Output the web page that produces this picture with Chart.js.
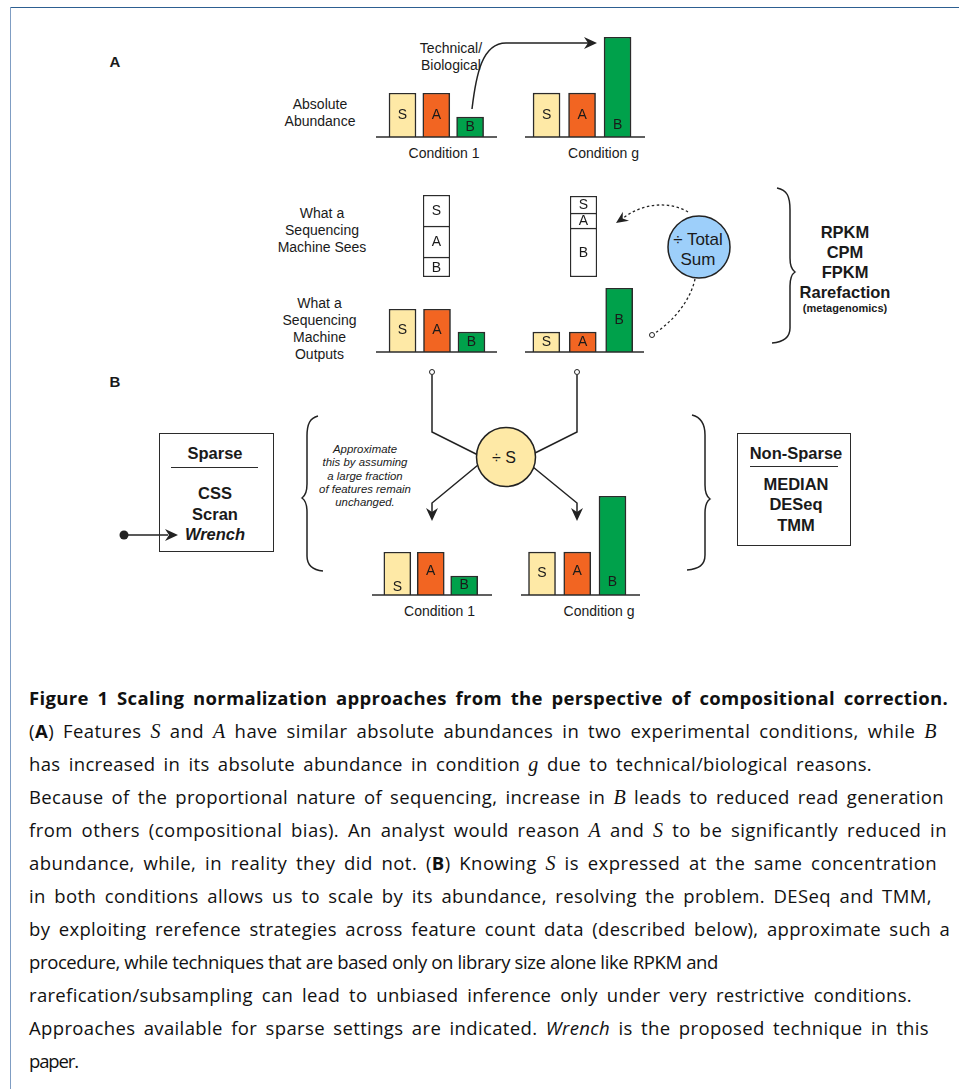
<!DOCTYPE html>
<html>
<head>
<meta charset="utf-8">
<script src="https://cdn.jsdelivr.net/npm/chart.js@4.4.1/dist/chart.umd.min.js"></script>
<style>
body { margin: 0; background: #fff; font-family: "Liberation Sans", Arial, sans-serif; color: #1a1a1a; }
#fig { position: relative; width: 959px; height: 1089px; overflow: hidden; }
.frameTop { position: absolute; left: 10px; top: 7px; width: 949px; border-top: 1.5px solid #2d5f91; }
.frameLeft { position: absolute; left: 10px; top: 7px; height: 1082px; border-left: 1.5px solid #7f9dc3; }
canvas { position: absolute; }
svg { position: absolute; left: 0; top: 0; }
.t { position: absolute; transform: translate(-50%, -50%); white-space: nowrap; text-align: center; font-size: 14px; line-height: 17px; }
.bold { font-weight: bold; }
.box { position: absolute; border: 1.5px solid #2b2b2b; box-sizing: border-box; }
.rule { position: absolute; border-top: 1.5px solid #2b2b2b; }
#caption { position: absolute; left: 29px; top: 681px; font-family: "Open Sans", Lato, sans-serif; font-size: 18.5px; line-height: 33px; color: #111; }
#caption .ln { white-space: nowrap; height: 33px; overflow: visible; }
#caption .ln span.w { display: inline-block; line-height: 33px; vertical-align: top; }
#caption .m { font-family: "Liberation Serif", serif; font-style: italic; font-size: 20px; line-height: 1; }
</style>
</head>
<body>
<div id="fig">
  <div class="frameTop"></div>
  <div class="frameLeft"></div>

  <svg width="959" height="1089">
    <g fill="none" stroke="#222" stroke-width="1.5">
      <path d="M472,109 C476,75 482,43 506,43 L588,43"/>
      <path d="M777,188 C787,190 790,196 790,210 L790,258 C790,266 792,270 795,272 C792,274 790,278 790,286 L790,328 C790,337 784,342 772,343"/>
      <path d="M318,416 C310,418 307,424 307,436 L307,484 C307,492 305,496 302,498 C305,500 307,504 307,512 L307,556 C307,566 313,570 323,571"/>
      <path d="M692,415 C700,417 705,423 705,435 L705,485 C705,493 707,497 710,499 C707,501 705,505 705,513 L705,555 C705,565 699,569 687,570"/>
      <path d="M432,375 L432,432 L478,455"/>
      <path d="M478,465 L432,503 L432,512"/>
      <path d="M577,375 L577,432 L535,453"/>
      <path d="M533,467 L577,503 L577,512"/>
      <line x1="124" y1="535" x2="168" y2="535"/>
    </g>
    <g fill="none" stroke="#222" stroke-width="1.3" stroke-dasharray="2.5,2.5">
      <path d="M688,212 C668,200 640,204 622,219"/>
      <path d="M695,279 C690,302 672,322 655,333"/>
    </g>
    <circle cx="699" cy="247" r="31" fill="#9dcffa" stroke="#222" stroke-width="1.5"/>
    <circle cx="506" cy="457" r="29.5" fill="#fee9a6" stroke="#222" stroke-width="1.5"/>
    <g fill="#222">
      <path transform="translate(597,43)" d="M0,0 L-13,-6 L-9,0 L-13,6 Z"/>
      <path transform="translate(616,223) rotate(146)" d="M0,0 L-12,-5.5 L-8,0 L-12,5.5 Z"/>
      <path transform="translate(432,521) rotate(90)" d="M0,0 L-13,-6 L-9,0 L-13,6 Z"/>
      <path transform="translate(577,521) rotate(90)" d="M0,0 L-13,-6 L-9,0 L-13,6 Z"/>
      <path transform="translate(178,535)" d="M0,0 L-13,-6 L-9,0 L-13,6 Z"/>
      <circle cx="124" cy="535" r="4.5"/>
    </g>
    <g fill="#fff" stroke="#222" stroke-width="1">
      <circle cx="652" cy="335" r="2.5"/>
      <circle cx="432" cy="372" r="2.5"/>
      <circle cx="577" cy="372" r="2.5"/>
    </g>
  </svg>

  <canvas id="absC1"></canvas>
  <canvas id="absCg"></canvas>
  <canvas id="seeC1"></canvas>
  <canvas id="seeCg"></canvas>
  <canvas id="outC1"></canvas>
  <canvas id="outCg"></canvas>
  <canvas id="scaleC1"></canvas>
  <canvas id="scaleCg"></canvas>

  <div class="t bold" style="left:115px;top:61px;font-size:15px;">A</div>
  <div class="t" style="left:451px;top:56.5px;">Technical/<br>Biological</div>
  <div class="t" style="left:320px;top:112.5px;">Absolute<br>Abundance</div>
  <div class="t" style="left:444px;top:153px;">Condition 1</div>
  <div class="t" style="left:603.5px;top:153px;">Condition g</div>
  <div class="t" style="left:322px;top:230px;">What a<br>Sequencing<br>Machine Sees</div>
  <div class="t" style="left:319.5px;top:328.5px;">What a<br>Sequencing<br>Machine<br>Outputs</div>
  <div class="t" style="left:698px;top:250px;font-size:17px;line-height:20px;">÷ Total<br>Sum</div>
  <div class="t bold" style="left:845px;top:262px;font-size:16.5px;line-height:20px;">RPKM<br>CPM<br>FPKM<br>Rarefaction</div>
  <div class="t bold" style="left:845px;top:308px;font-size:11px;">(metagenomics)</div>

  <div class="t bold" style="left:115px;top:381px;font-size:15px;">B</div>
  <div class="box" style="left:159px;top:433px;width:115px;height:119px;"></div>
  <div class="t bold" style="left:215px;top:453px;font-size:16.5px;">Sparse</div>
  <div class="rule" style="left:171px;top:467px;width:87px;"></div>
  <div class="t bold" style="left:215px;top:514px;font-size:16.5px;line-height:20.5px;">CSS<br>Scran<br><i>Wrench</i></div>
  <div class="t" style="left:365px;top:476px;font-size:11.4px;line-height:13.3px;font-style:italic;">Approximate<br>this by assuming<br>a large fraction<br>of features remain<br>unchanged.</div>
  <div class="t" style="left:504px;top:457px;font-size:16px;">÷ S</div>
  <div class="t" style="left:439.5px;top:611px;">Condition 1</div>
  <div class="t" style="left:599px;top:611px;">Condition g</div>
  <div class="box" style="left:737px;top:433px;width:114px;height:113px;"></div>
  <div class="t bold" style="left:796px;top:453px;font-size:16.5px;">Non-Sparse</div>
  <div class="rule" style="left:750px;top:466px;width:88px;"></div>
  <div class="t bold" style="left:796px;top:504.5px;font-size:16.5px;line-height:20.5px;">MEDIAN<br>DESeq<br>TMM</div>

  <div id="caption">
    <div class="ln" data-end="948"><span class="w"><b>Figure 1 Scaling normalization approaches from the perspective of compositional correction.</b></span></div>
    <div class="ln" data-end="937"><span class="w">(<b>A</b>) Features <span class="m">S</span> and <span class="m">A</span> have similar absolute abundances in two experimental conditions, while <span class="m">B</span></span></div>
    <div class="ln" data-end="872"><span class="w">has increased in its absolute abundance in condition <span class="m">g</span> due to technical/biological reasons.</span></div>
    <div class="ln" data-end="944"><span class="w">Because of the proportional nature of sequencing, increase in <span class="m">B</span> leads to reduced read generation</span></div>
    <div class="ln" data-end="947"><span class="w">from others (compositional bias). An analyst would reason <span class="m">A</span> and <span class="m">S</span> to be significantly reduced in</span></div>
    <div class="ln" data-end="937"><span class="w">abundance, while, in reality they did not. (<b>B</b>) Knowing <span class="m">S</span> is expressed at the same concentration</span></div>
    <div class="ln" data-end="932"><span class="w">in both conditions allows us to scale by its abundance, resolving the problem. DESeq and TMM,</span></div>
    <div class="ln" data-end="950"><span class="w">by exploiting rerefence strategies across feature count data (described below), approximate such a</span></div>
    <div class="ln" data-end="718"><span class="w">procedure, while techniques that are based only on library size alone like RPKM and</span></div>
    <div class="ln" data-end="912"><span class="w">rarefication/subsampling can lead to unbiased inference only under very restrictive conditions.</span></div>
    <div class="ln" data-end="929"><span class="w">Approaches available for sparse settings are indicated. <i>Wrench</i> is the proposed technique in this</span></div>
    <div class="ln" data-end="78"><span class="w">paper.</span></div>
  </div>
</div>

<script>
// features and their colours
const features = ['S', 'A', 'B'];
const featureColors = ['#fee9a6', '#f26522', '#00a14b'];

// absolute abundance (arbitrary units)
const absCond1 = [44, 44, 20];
const absCondG = [44, 44, 100];

// what the sequencer sees: share of one read column, S / A / B
const seenCond1 = [31, 31, 20];
const seenCondG = [17, 15, 49];

// what the sequencer outputs
const outCond1 = [43, 43, 20];
const outCondG = [20, 20, 64];

// after scaling by S
const scaledCond1 = [43, 43, 19];
const scaledCondG = [43, 43, 99];

Chart.defaults.font.family = '"Liberation Sans", Arial, sans-serif';

function noFrills() {
  return { legend: { display: false }, tooltip: { enabled: false } };
}

// one group of three bars on a baseline
function barGroup(id, values, g, labelAt) {
  const c = document.getElementById(id);
  const top = Math.max(...values);
  c.width = g.w + g.extL + g.extR + 4;
  c.height = top + 8;
  c.style.left = (g.x - g.extL - 2) + 'px';
  c.style.top = (g.base - top - 4) + 'px';

  const decor = {
    id: 'decor',
    afterDatasetsDraw(chart) {
      const ctx = chart.ctx;
      const area = chart.chartArea;
      const y0 = chart.scales.y.getPixelForValue(0);
      ctx.save();
      ctx.strokeStyle = '#2b2b2b';
      ctx.lineWidth = 1.5;
      ctx.beginPath();
      ctx.moveTo(area.left - g.extL, y0);
      ctx.lineTo(area.right + g.extR, y0);
      ctx.stroke();
      ctx.fillStyle = '#1a1a1a';
      ctx.font = '14px "Liberation Sans", Arial, sans-serif';
      ctx.textAlign = 'center';
      ctx.textBaseline = 'middle';
      chart.getDatasetMeta(0).data.forEach((bar, i) => {
        const y = labelAt[i] == null ? (bar.y + bar.base) / 2 : bar.base - labelAt[i];
        ctx.fillText(features[i], bar.x, y);
      });
      ctx.restore();
    }
  };

  new Chart(c, {
    type: 'bar',
    data: {
      labels: features,
      datasets: [{
        data: values,
        backgroundColor: featureColors,
        borderColor: '#2b2b2b',
        borderWidth: 1.5,
        barThickness: 27
      }]
    },
    options: {
      responsive: false,
      animation: false,
      events: [],
      layout: { padding: { left: g.extL + 2, right: g.extR + 2, top: 4, bottom: 4 } },
      plugins: noFrills(),
      scales: {
        x: { display: false },
        y: { display: false, min: 0, max: top }
      }
    },
    plugins: [decor]
  });
}

// one stacked read column (S on top, B at the bottom)
function readColumn(id, seen, x, bottom) {
  const c = document.getElementById(id);
  const total = seen.reduce((a, b) => a + b, 0);
  c.width = 27 + 4;
  c.height = total + 6;
  c.style.left = (x - 2) + 'px';
  c.style.top = (bottom - total - 3) + 'px';

  const order = [2, 1, 0];
  const datasets = order.map((k, j) => ({
    label: features[k],
    data: [seen[k]],
    backgroundColor: '#fff',
    borderColor: '#2b2b2b',
    borderSkipped: false,
    borderWidth: j === 0 ? 1.5 : { top: 1.5, left: 1.5, right: 1.5, bottom: 0 },
    barThickness: 27
  }));

  const labels = {
    id: 'segLabels',
    afterDatasetsDraw(chart) {
      const ctx = chart.ctx;
      ctx.save();
      ctx.fillStyle = '#1a1a1a';
      ctx.font = '14px "Liberation Sans", Arial, sans-serif';
      ctx.textAlign = 'center';
      ctx.textBaseline = 'middle';
      chart.data.datasets.forEach((ds, i) => {
        const bar = chart.getDatasetMeta(i).data[0];
        ctx.fillText(ds.label, bar.x, (bar.y + bar.base) / 2 + 1);
      });
      ctx.restore();
    }
  };

  new Chart(c, {
    type: 'bar',
    data: { labels: ['reads'], datasets: datasets },
    options: {
      responsive: false,
      animation: false,
      events: [],
      layout: { padding: { left: 2, right: 2, top: 3, bottom: 3 } },
      plugins: noFrills(),
      scales: {
        x: { display: false, stacked: true },
        y: { display: false, stacked: true, min: 0, max: total }
      }
    },
    plugins: [labels]
  });
}

barGroup('absC1', absCond1, { x: 385.6, w: 101.4, base: 137, extL: 9.6, extR: 10 }, [null, null, null]);
barGroup('absCg', absCondG, { x: 528.8, w: 106.5, base: 137, extL: 3.8, extR: 9.7 }, [null, null, 12]);
readColumn('seeC1', seenCond1, 423, 277);
readColumn('seeCg', seenCondG, 570, 277);
barGroup('outC1', outCond1, { x: 385.3, w: 103.5, base: 352, extL: 9.3, extR: 8.3 }, [null, null, null]);
barGroup('outCg', outCondG, { x: 528.1, w: 110.3, base: 352, extL: 3.1, extR: 6.6 }, [null, null, null]);
barGroup('scaleC1', scaledCond1, { x: 380.6, w: 101.3, base: 595, extL: 8.6, extR: 11.1 }, [8, 24, null]);
barGroup('scaleCg', scaledCondG, { x: 524.4, w: 105.7, base: 595, extL: 3.4, extR: 9.9 }, [null, 24, 13]);

// stretch each caption line to the width it has in the original:
// most of the slack goes into the word gaps, the rest between letters
document.querySelectorAll('#caption .ln').forEach(ln => {
  const span = ln.querySelector('.w');
  const want = +ln.dataset.end - 29;
  const have = span.getBoundingClientRect().width;
  const text = span.textContent;
  const n = text.length;
  const gaps = (text.match(/ /g) || []).length;
  const extra = want - have;
  if (extra > 0 && gaps > 0) {
    span.style.wordSpacing = (extra * 0.55 / gaps).toFixed(3) + 'px';
    span.style.letterSpacing = (extra * 0.45 / n).toFixed(3) + 'px';
  } else {
    span.style.letterSpacing = (extra / n).toFixed(3) + 'px';
  }
});
</script>
</body>
</html>
